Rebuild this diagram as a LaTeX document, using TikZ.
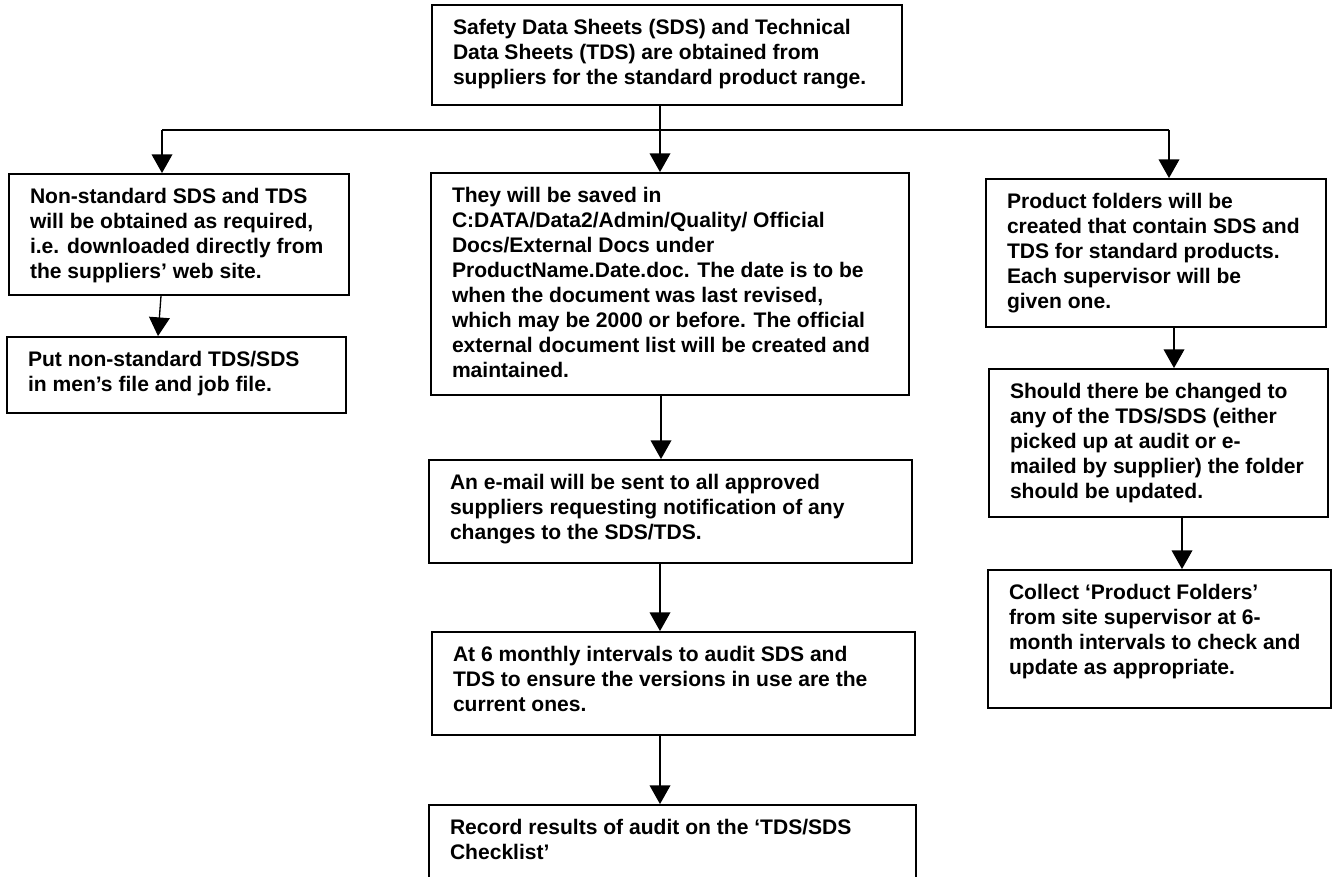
\documentclass[tikz,border=0pt]{standalone}
\usepackage{fontspec}
\setmainfont{Liberation Sans}
\usetikzlibrary{arrows.meta}
\tikzset{
  box/.style={draw=black, line width=1.4pt, rectangle, inner xsep=15.75pt, inner ysep=11pt, font=\bfseries\fontsize{15.8pt}{18.75pt}\selectfont},
  conn/.style={draw=black, line width=1pt},
  arr/.style={conn, -{Triangle[length=14pt,width=15.5pt]}}
}
\newcommand\fbx[6]{%
  \pgfmathsetlengthmacro\bw{(#4-#2)*0.75pt-31.5pt}%
  \pgfmathsetlengthmacro\bh{(#5-#3)*0.75pt-22pt}%
  \node[box] (#1) at ({(#2+#4)/2},{(#3+#5)/2}) {\parbox[c][\bh][t]{\bw}{\raggedright #6}};%
}
\begin{document}
\begin{tikzpicture}[x=0.75pt,y=-0.75pt]
\path[use as bounding box, clip] (0,0) rectangle (1335,877);
\fill[white] (0,0) rectangle (1335,877);
\fbx{T}{432}{5}{902}{105}{Safety Data Sheets (SDS) and Technical\\Data Sheets (TDS) are obtained from\\suppliers for the standard product range.}
\fbx{L1}{9}{174}{349}{295}{Non-standard SDS and TDS\\will be obtained as required,\\i.e. downloaded directly from\\the suppliers’ web site.}
\fbx{L2}{7}{337}{346}{413}{Put non-standard TDS/SDS\\in men’s file and job file.}
\fbx{M1}{431}{173}{909}{395}{They will be saved in\\C:DATA/Data2/Admin/Quality/ Official\\Docs/External Docs under\\ProductName.Date.doc. The date is to be\\when the document was last revised,\\which may be 2000 or before. The official\\external document list will be created and\\maintained.}
\fbx{M2}{429}{460}{912}{563}{An e-mail will be sent to all approved\\suppliers requesting notification of any\\changes to the SDS/TDS.}
\fbx{M3}{432}{632}{915}{735}{At 6 monthly intervals to audit SDS and\\TDS to ensure the versions in use are the\\current ones.}
\fbx{M4}{429}{805}{916}{905}{Record results of audit on the ‘TDS/SDS\\Checklist’}
\fbx{R1}{986}{179}{1326}{327}{Product folders will be\\created that contain SDS and\\TDS for standard products.\\Each supervisor will be\\given one.}
\fbx{R2}{989}{369}{1328}{517}{Should there be changed to\\any of the TDS/SDS (either\\picked up at audit or e-\\mailed by supplier) the folder\\should be updated.}
\fbx{R3}{988}{570}{1331}{708}{Collect ‘Product Folders’\\from site supervisor at 6-\\month intervals to check and\\update as appropriate.}
\coordinate (jl) at (162,130);
\coordinate (jm) at (660,130);
\coordinate (jr) at (1169,130);
\draw[conn] (jm |- T.south) -- (jm);
\draw[conn] (jl) -- (jr);
\draw[arr] (jl) -- (jl |- L1.north);
\draw[arr] (jm) -- (jm |- M1.north);
\draw[arr] (jr) -- (jr |- R1.north);
\draw[arr] (161,0 |- L1.south) -- (158,0 |- L2.north);
\draw[arr] (661,0 |- M1.south) -- (661,0 |- M2.north);
\draw[arr] (660,0 |- M2.south) -- (660,0 |- M3.north);
\draw[arr] (660,0 |- M3.south) -- (660,0 |- M4.north);
\draw[arr] (1174,0 |- R1.south) -- (1174,0 |- R2.north);
\draw[arr] (1182,0 |- R2.south) -- (1182,0 |- R3.north);
\end{tikzpicture}
\end{document}
